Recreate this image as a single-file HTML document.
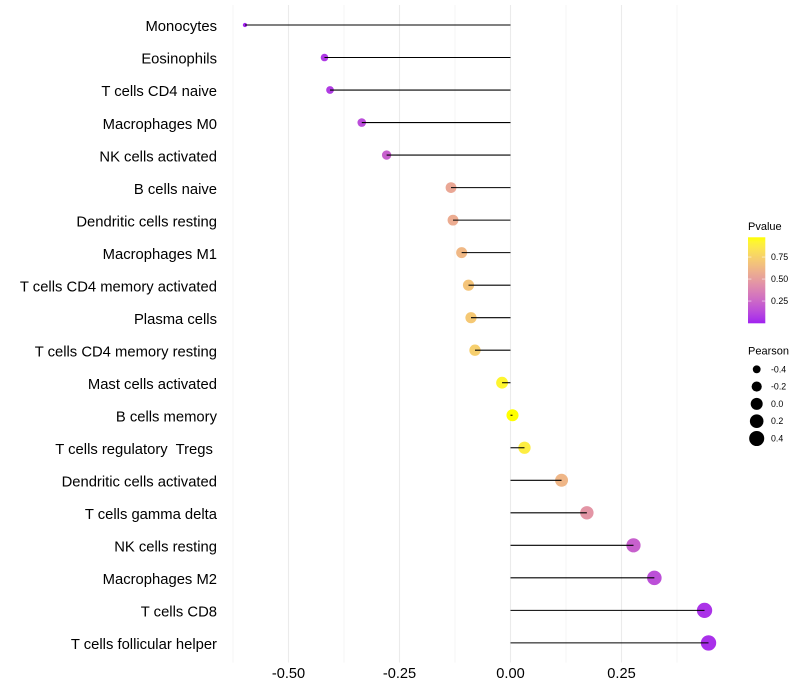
<!DOCTYPE html>
<html>
<head>
<meta charset="utf-8">
<title>Immune cell correlation lollipop chart</title>
<style>
html,body{margin:0;padding:0;background:#fff;width:800px;height:700px;overflow:hidden}
svg{display:block;position:absolute;left:0;top:0}
text{font-family:"Liberation Sans",sans-serif;white-space:pre}
</style>
</head>
<body>
<svg id="chart" width="800" height="700" viewBox="0 0 800 700" xmlns="http://www.w3.org/2000/svg">
<defs><linearGradient id="pgrad" x1="0" y1="1" x2="0" y2="0"></linearGradient></defs>
<rect x="0" y="0" width="800" height="700" fill="#ffffff"/>
</svg>
<script>
var categories = ["Monocytes","Eosinophils","T cells CD4 naive","Macrophages M0","NK cells activated","B cells naive","Dendritic cells resting","Macrophages M1","T cells CD4 memory activated","Plasma cells","T cells CD4 memory resting","Mast cells activated","B cells memory","T cells regulatory  Tregs ","Dendritic cells activated","T cells gamma delta","NK cells resting","Macrophages M2","T cells CD8","T cells follicular helper"];
var pearson = [-0.598,-0.419,-0.4065,-0.335,-0.279,-0.134,-0.1295,-0.110,-0.0946,-0.089,-0.080,-0.019,0.0045,0.0315,0.115,0.172,0.277,0.324,0.437,0.446];
var pvalues = [0.01,0.07,0.08,0.14,0.22,0.55,0.57,0.63,0.69,0.71,0.74,0.93,0.977,0.89,0.62,0.46,0.22,0.15,0.05,0.04];
var xMajorTicks = [-0.5,-0.25,0,0.25];
var xTickLabels = ["-0.50","-0.25","0.00","0.25"];
var xMinorTicks = [-0.625,-0.375,-0.125,0.125,0.375];
var pvalueLegendTicks = [0.25,0.5,0.75];
var pvalueLegendLabels = ["0.25","0.50","0.75"];
var pearsonLegendValues = [-0.4,-0.2,0,0.2,0.4];
var pearsonLegendLabels = ["-0.4","-0.2","0.0","0.2","0.4"];

var svg = document.getElementById('chart');
var NS = 'http://www.w3.org/2000/svg';
var panelTop = 5, panelBottom = 662.5;

function xScale(v){ return 510.5 + v * 444; }
function yScale(i){ return 25 + i * 32.52; }
function pointDiameter(v){ return Math.sqrt(Math.max(4, 135 + 200 * v)) + 0.4; }
function barY(p){ return 323.3 - (p + 0.003) * 88; }

function toLab(rgb){
  var c = rgb.map(function(u){ u/=255; return u>0.04045?Math.pow((u+0.055)/1.055,2.4):u/12.92; });
  var X=(0.4124*c[0]+0.3576*c[1]+0.1805*c[2])/0.95047, Y=0.2126*c[0]+0.7152*c[1]+0.0722*c[2], Z=(0.0193*c[0]+0.1192*c[1]+0.9505*c[2])/1.08883;
  var f=function(t){ return t>0.008856?Math.cbrt(t):7.787*t+16/116; };
  return [116*f(Y)-16,500*(f(X)-f(Y)),200*(f(Y)-f(Z))];
}
function fromLab(l){
  var fy=(l[0]+16)/116, fx=l[1]/500+fy, fz=fy-l[2]/200;
  var g=function(t){ return t>0.206893?t*t*t:(t-16/116)/7.787; };
  var X=g(fx)*0.95047,Y=g(fy),Z=g(fz)*1.08883;
  var r=3.2406*X-1.5372*Y-0.4986*Z, gr=-0.9689*X+1.8758*Y+0.0415*Z, b=0.0557*X-0.2040*Y+1.0570*Z;
  return 'rgb('+[r,gr,b].map(function(u){
    u=Math.max(0,Math.min(1,u));
    u=u>0.0031308?1.055*Math.pow(u,1/2.4)-0.055:12.92*u;
    return Math.round(u*255);
  }).join(',')+')';
}
var labLow = toLab([160,32,240]), labHigh = toLab([255,255,0]);
function pColor(p){
  var t = Math.max(0, Math.min(1, p / 0.977));
  return fromLab([0,1,2].map(function(k){ return labLow[k] + (labHigh[k]-labLow[k])*t; }));
}
function make(tag, attrs, txt){
  var el = document.createElementNS(NS, tag);
  for (var k in attrs) el.setAttribute(k, attrs[k]);
  if (txt !== undefined) el.textContent = txt;
  svg.appendChild(el);
  return el;
}

xMinorTicks.forEach(function(v){
  var el = make('line',{x1:xScale(v),x2:xScale(v),y1:panelTop,y2:panelBottom,stroke:'#ebebeb','stroke-width':0.55});
  
  
});
xMajorTicks.forEach(function(v, i){
  var el = make('line',{x1:xScale(v),x2:xScale(v),y1:panelTop,y2:panelBottom,stroke:'#ebebeb','stroke-width':1.05});
  
  
  var t = make('text',{x:xScale(v),y:678,'text-anchor':'middle','font-size':14.6,fill:'#000'},xTickLabels[i]);
  
  
});

categories.forEach(function(name, i){
  var y = yScale(i), x = xScale(pearson[i]);
  var label = make('text',{x:217,y:y+6.2,'text-anchor':'end','font-size':14.8,fill:'#000'},name);
  
  
  var dot = make('circle',{cx:x,cy:y,r:pointDiameter(pearson[i])/2,fill:pColor(pvalues[i])});
  
  
  var seg = make('line',{x1:xScale(0),x2:x,y1:y,y2:y,stroke:'#000','stroke-width':1.07});
  
  
});

var grad = document.getElementById('pgrad');
for (var s = 0; s <= 20; s++) {
  var stop = document.createElementNS(NS,'stop');
  stop.setAttribute('offset', (s/20));
  stop.setAttribute('stop-color', pColor(s/20*0.977));
  grad.appendChild(stop);
}

var pTitle = make('text',{x:748,y:230,'font-size':11,fill:'#000'},'Pvalue');


var bar = make('rect',{x:748,y:237.3,width:17.3,height:86,fill:'url(#pgrad)'});


pvalueLegendTicks.forEach(function(p, i){
  var y = barY(p);
  var a = make('line',{x1:748,x2:751.4,y1:y,y2:y,stroke:'#fff','stroke-width':0.6,'stroke-opacity':0.9});
  
  
  var b = make('line',{x1:761.9,x2:765.3,y1:y,y2:y,stroke:'#fff','stroke-width':0.6,'stroke-opacity':0.9});
  
  
  var t = make('text',{x:771,y:y+3,'font-size':8.8,fill:'#000'},pvalueLegendLabels[i]);
  
  
});

var sTitle = make('text',{x:748,y:354.5,'font-size':11,fill:'#000'},'Pearson');


pearsonLegendValues.forEach(function(v, i){
  var y = 369.3 + i * 17.3;
  var c = make('circle',{cx:756.7,cy:y,r:pointDiameter(v)/2,fill:'#000'});
  
  
  var t = make('text',{x:771,y:y+3,'font-size':8.8,fill:'#000'},pearsonLegendLabels[i]);
  
  
});
</script>
</body>
</html>
